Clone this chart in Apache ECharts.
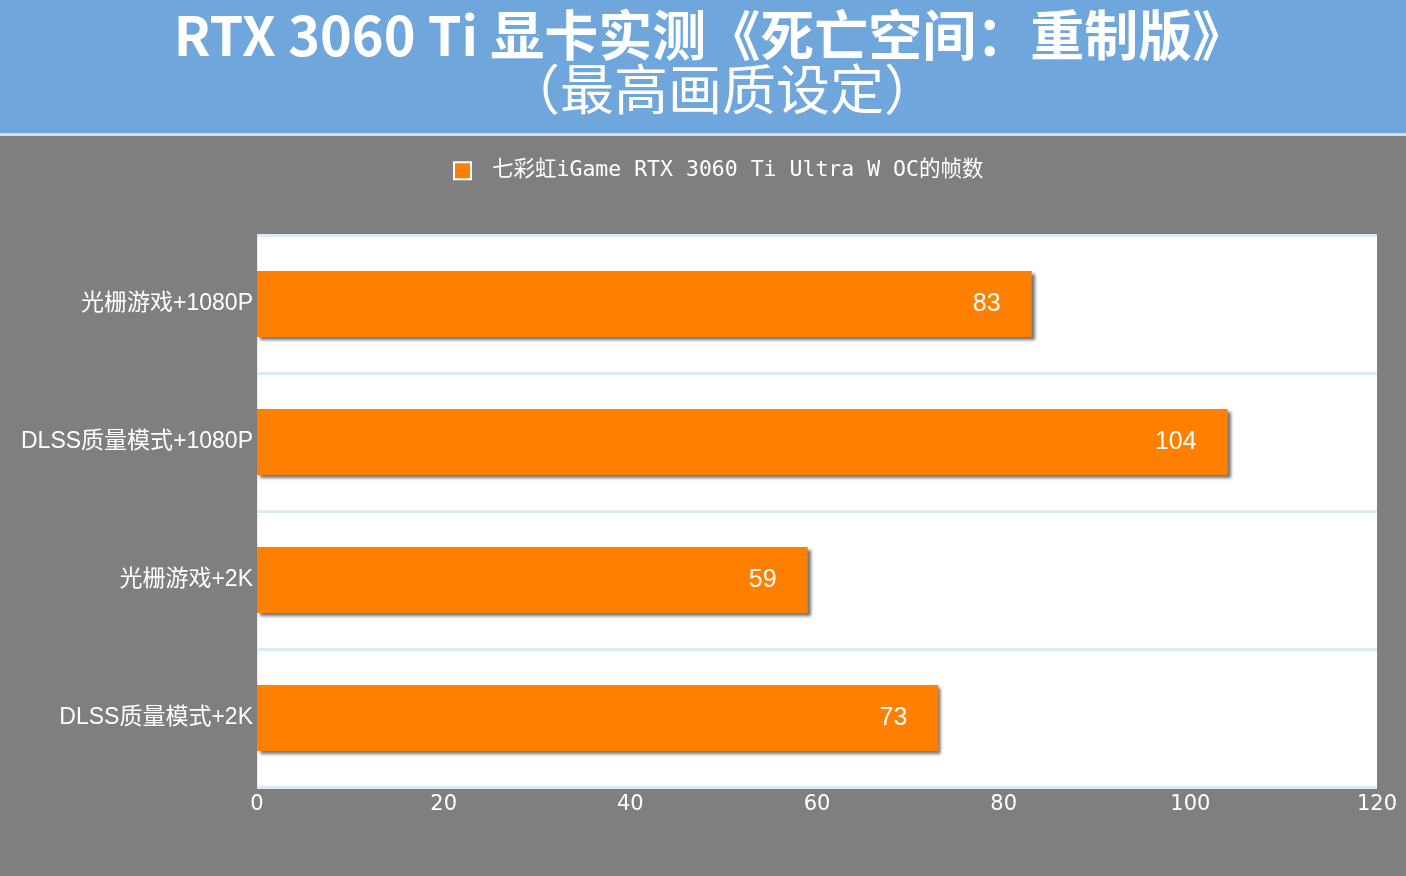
<!DOCTYPE html>
<html>
<head>
<meta charset="utf-8">
<script src="https://cdn.jsdelivr.net/npm/echarts@6/dist/echarts.min.js"></script>
<style>
  html, body { margin: 0; padding: 0; background: #7f7f7f; }
  #main { width: 1406px; height: 876px; }
</style>
</head>
<body>
<div id="main"></div>
<script>
var categories = ['光栅游戏+1080P', 'DLSS质量模式+1080P', '光栅游戏+2K', 'DLSS质量模式+2K'];
var fpsValues = [83, 104, 59, 73];
var seriesName = '七彩虹iGame RTX 3060 Ti Ultra W OC的帧数';
var mainTitle = 'RTX 3060 Ti 显卡实测《死亡空间：重制版》';
var subTitle = '（最高画质设定）';

var chart = echarts.init(document.getElementById('main'));
var cjk = '"Noto Sans CJK SC", "Noto Sans", sans-serif';

var option = {
    backgroundColor: '#7f7f7f',
    animation: false,
    graphic: [
        { type: 'rect', left: 0, top: 0, shape: { width: 1406, height: 133 }, style: { fill: '#6fa6dc' }, z: -1 },
        { type: 'rect', left: 0, top: 133, shape: { width: 1406, height: 3 }, style: { fill: '#cfe0f2' }, z: -1 },
        {
            type: 'text', x: 710, y: 35,
            style: {
                text: mainTitle, fill: '#fff', align: 'center', verticalAlign: 'middle',
                font: 'bold 54px ' + cjk
            }
        },
        {
            type: 'text', x: 722, y: 89,
            style: {
                text: subTitle, fill: '#fff', align: 'center', verticalAlign: 'middle',
                font: 'normal 54px ' + cjk
            }
        }
    ],
    legend: {
        data: [seriesName],
        top: 155,
        left: 448,
        itemWidth: 17,
        itemHeight: 17,
        icon: 'rect',
        itemStyle: { borderColor: '#fff', borderWidth: 2 },
        textStyle: {
            color: '#fff', fontSize: 21.5, padding: [0, 0, 0, 16],
            fontFamily: '"DejaVu Sans Mono", "Noto Sans CJK SC", monospace'
        }
    },
    grid: {
        left: 257, right: 29, top: 235, bottom: 89,
        show: true, backgroundColor: '#fff', borderWidth: 0
    },
    xAxis: {
        type: 'value',
        min: 0, max: 120, interval: 20,
        axisLine: { show: false },
        axisTick: { show: false },
        splitLine: { show: false },
        axisLabel: { color: '#fff', fontSize: 21, margin: 7, fontFamily: '"DejaVu Sans", sans-serif' }
    },
    yAxis: {
        type: 'category',
        data: categories,
        inverse: true,
        axisLine: { show: true, lineStyle: { color: '#dde9f5', width: 1 } },
        axisTick: { show: false },
        splitLine: { show: true, lineStyle: { color: '#dde9f5', width: 3 } },
        axisLabel: {
            color: '#fff', fontSize: 23, margin: 4, padding: [5, 0, 0, 0],
            fontFamily: '"Liberation Sans", "Noto Sans CJK SC", sans-serif'
        }
    },
    series: [
        {
            name: seriesName,
            type: 'bar',
            data: fpsValues,
            barWidth: 66,
            itemStyle: {
                color: '#ff8000',
                borderWidth: 0,
                shadowColor: 'rgba(0,0,0,0.55)',
                shadowBlur: 3,
                shadowOffsetX: 3,
                shadowOffsetY: 3
            },
            label: {
                show: true,
                position: 'insideRight',
                distance: 31,
                color: '#fff',
                fontSize: 25,
                fontFamily: '"Liberation Sans", Arial, sans-serif'
            }
        }
    ]
};

chart.setOption(option);
</script>
</body>
</html>
